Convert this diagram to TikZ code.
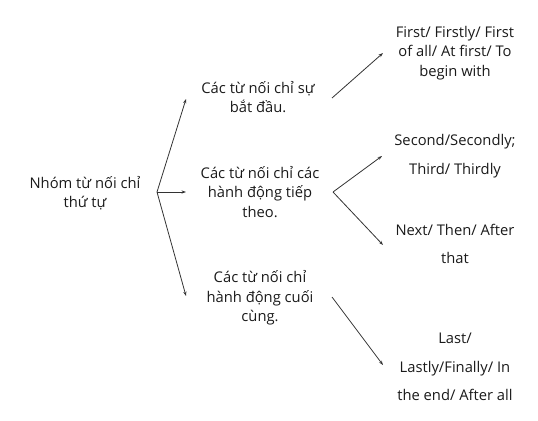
\documentclass[tikz,border=0pt]{standalone}
\usepackage{fontspec}
\setmainfont{Open Sans}
\usetikzlibrary{arrows.meta}
\definecolor{txt}{HTML}{1A1A1A}
\definecolor{ln}{HTML}{333333}
\tikzset{
  lbl/.style={align=center, text=txt, inner sep=0pt, font=\fontsize{14.8}{19.5}\selectfont},
  wide/.style={align=center, text=txt, inner sep=0pt, font=\fontsize{14.8}{28.5}\selectfont},
  conn/.style={draw=ln, line width=0.8pt},
  arr/.style={conn, -{Stealth[length=4.5pt,width=3.2pt]}}
}
\begin{document}
\begin{tikzpicture}[x=1bp, y=-1bp]
\useasboundingbox (0,0) rectangle (538,420);
\node[lbl] (root) at (85,193) {Nhóm từ nối chỉ\\thứ tự};
\node[lbl] (c1) at (258,97) {Các từ nối chỉ sự\\bắt đầu.};
\node[lbl] (c2) at (260,192) {Các từ nối chỉ các\\hành động tiếp\\theo.};
\node[lbl] (c3) at (260,298) {Các từ nối chỉ\\hành động cuối\\cùng.};
\node[lbl] (l1) at (455,53) {First/ Firstly/ First\\of all/ At first/ To\\begin with};
\node[wide] (l2) at (455,156) {Second/Secondly;\\Third/ Thirdly};
\node[wide] (l3) at (455,244) {Next/ Then/ After\\that};
\node[wide] (l4) at (455,367) {Last/\\Lastly/Finally/ In\\the end/ After all};
% fork points and arrow tips
\coordinate (rv) at (157,192);
\coordinate (t1) at (186,99);
\coordinate (t2) at (186,192);
\coordinate (t3) at (186,296);
\coordinate (s1) at (332,98);
\coordinate (u1) at (383,53);
\coordinate (cv) at (333,192);
\coordinate (u2) at (382,156);
\coordinate (u3) at (383,245);
\coordinate (s3) at (332,297);
\coordinate (u4) at (383,365);
\draw[arr] (rv) -- (t1);
\draw[arr] (rv) -- (t2);
\draw[arr] (rv) -- (t3);
\draw[arr] (s1) -- (u1);
\draw[arr] (cv) -- (u2);
\draw[arr] (cv) -- (u3);
\draw[arr] (s3) -- (u4);
\end{tikzpicture}
\end{document}
